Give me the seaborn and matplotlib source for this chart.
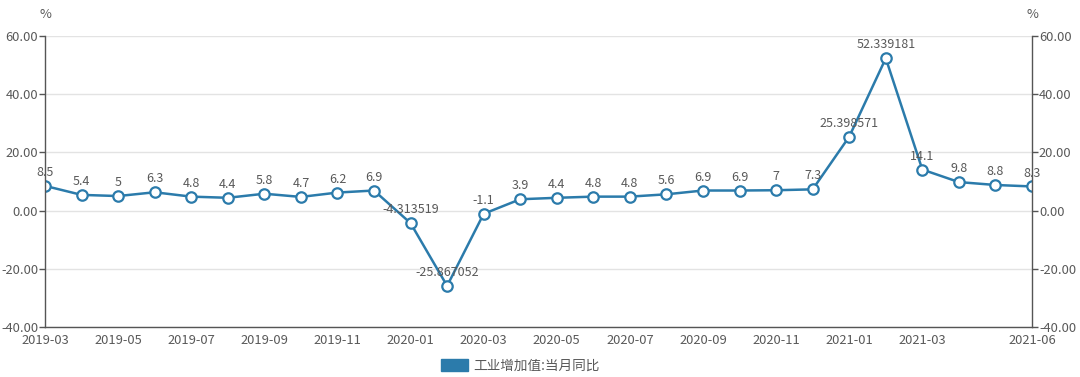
import matplotlib.pyplot as plt
import pandas as pd
import seaborn as sns
from matplotlib.patches import Patch

months = pd.date_range('2019-03', '2021-06', freq='MS').strftime('%Y-%m').to_list()
values = [8.5, 5.4, 5, 6.3, 4.8, 4.4, 5.8, 4.7, 6.2, 6.9,
          -4.313519, -25.867052, -1.1, 3.9, 4.4, 4.8, 4.8, 5.6, 6.9, 6.9,
          7, 7.3, 25.398571, 52.339181, 14.1, 9.8, 8.8, 8.3]
labels = ['8.5', '5.4', '5', '6.3', '4.8', '4.4', '5.8', '4.7', '6.2', '6.9',
          '-4.313519', '-25.867052', '-1.1', '3.9', '4.4', '4.8', '4.8', '5.6', '6.9', '6.9',
          '7', '7.3', '25.398571', '52.339181', '14.1', '9.8', '8.8', '8.3']
tick_months = ['2019-03', '2019-05', '2019-07', '2019-09', '2019-11', '2020-01', '2020-03',
               '2020-05', '2020-07', '2020-09', '2020-11', '2021-01', '2021-03', '2021-06']
series_name = '工业增加值:当月同比'

df = pd.DataFrame({'month': months, 'value': values})
df['pos'] = range(len(df))

sns.set_theme(style='white')
plt.rcParams['font.family'] = ['Noto Sans CJK SC', 'DejaVu Sans']

line_color = '#2b7bab'
text_color = '#595959'
axis_color = '#555555'

fig = plt.figure(figsize=(10.8, 3.77), dpi=100)
ax = fig.add_axes([45 / 1080, 1 - 327 / 377, 987 / 1080, 291 / 377])

sns.lineplot(
    df, x='pos', y='value', color=line_color, linewidth=1.8,
    marker='o', markersize=7.5, markerfacecolor='white',
    markeredgecolor=line_color, markeredgewidth=1.6, ax=ax,
)

for p, v, lab in zip(df['pos'], df['value'], labels):
    ax.annotate(lab, (p, v), xytext=(0, 5), textcoords='offset points',
                ha='center', va='bottom', fontsize=9, color=text_color)

ax.set_xlim(0, len(df) - 1)
ax.set_ylim(-40, 60)
yticks = [-40, -20, 0, 20, 40, 60]
ax.set_yticks(yticks)
ax.set_yticklabels([f'{t:.2f}' for t in yticks])
ax.set_xticks([months.index(m) for m in tick_months])
ax.set_xticklabels(tick_months)
ax.set_xlabel('')
ax.set_ylabel('')
ax.grid(axis='y', color='#e3e3e3', linewidth=1)
ax.set_axisbelow(True)

ax2 = ax.twinx()
ax2.set_ylim(-40, 60)
ax2.set_yticks(yticks)
ax2.set_yticklabels([f'{t:.2f}' for t in yticks])

for a in (ax, ax2):
    for s in a.spines.values():
        s.set_visible(False)
    a.tick_params(axis='both', length=4, width=1, color=axis_color,
                  labelcolor=text_color, labelsize=9.3, pad=1)
ax.spines['left'].set_visible(True)
ax.spines['bottom'].set_visible(True)
ax2.spines['right'].set_visible(True)
for s in (ax.spines['left'], ax.spines['bottom'], ax2.spines['right']):
    s.set_color(axis_color)
    s.set_linewidth(1)

fig.text(45 / 1080, 1 - 15 / 377, '%', ha='center', va='center', fontsize=9.3, color=text_color)
fig.text(1032 / 1080, 1 - 15 / 377, '%', ha='center', va='center', fontsize=9.3, color=text_color)

fig.legend(handles=[Patch(facecolor=line_color, edgecolor=line_color, label=series_name)],
           loc='center', bbox_to_anchor=(0.482, 1 - 366 / 377), frameon=False,
           fontsize=9.8, labelcolor=text_color, handlelength=2.0, handleheight=1.0,
           handletextpad=0.4)

fig.savefig('out.png', dpi=100)
